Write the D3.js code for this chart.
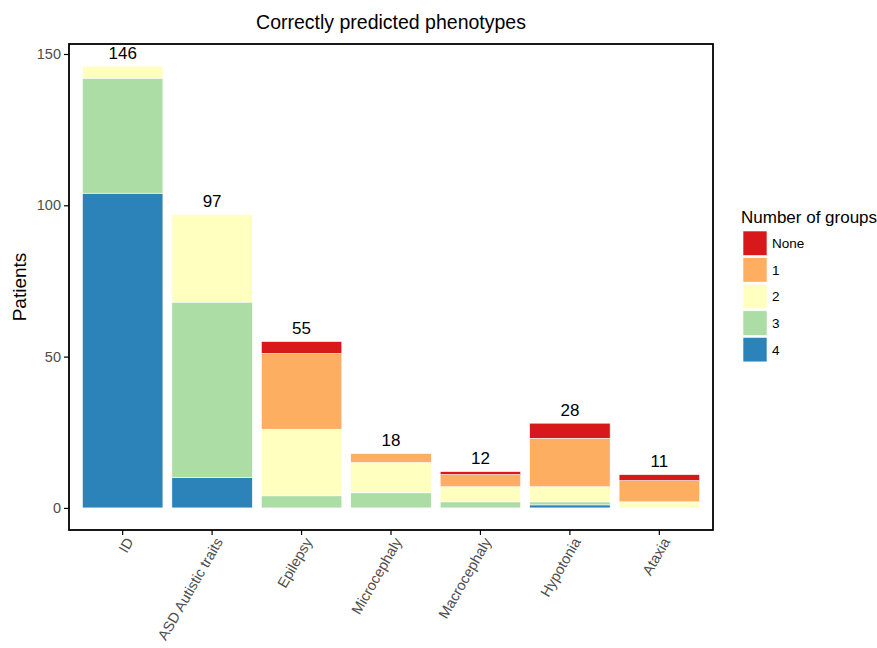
<!DOCTYPE html>
<html><head><meta charset="utf-8">
<script src="https://cdn.jsdelivr.net/npm/d3@7"></script>
<style>body{margin:0;background:#fff}text{font-family:Arial,"Liberation Sans",sans-serif}</style>
</head><body><svg id="c" width="877" height="648"></svg>
<script>
const categories = ["ID","ASD Autistic traits","Epilepsy","Microcephaly","Macrocephaly","Hypotonia","Ataxia"];
const groups = ["None","1","2","3","4"];
const vNone = [0,0,4,0,1,5,2];
const v1    = [0,0,25,3,4,16,7];
const v2    = [4,29,22,10,5,5,2];
const v3    = [38,58,4,5,2,1,0];
const v4    = [104,10,0,0,0,1,0];
const totals = [146,97,55,18,12,28,11];
const yTicks = [0,50,100,150];
const colors = ["#d7191c","#fdae61","#ffffbf","#abdda4","#2b83ba"];

const series = {"None":vNone,"1":v1,"2":v2,"3":v3,"4":v4};
const rows = categories.map((c,i)=>{const r={cat:c}; groups.forEach(g=>r[g]=series[g][i]); return r;});
const stack = d3.stack().keys(["4","3","2","1","None"])(rows);

const svg = d3.select("#c");
const L=69,R=713,T=44,B=530;
const x = d3.scaleBand().domain(categories).range([L,R]).paddingInner(0.1).paddingOuter(0.15);
const y = d3.scaleLinear().domain([-7.3,153.3]).range([B,T]);
const color = d3.scaleOrdinal().domain(groups).range(colors);
const FF = "Arial,'Liberation Sans',sans-serif";

svg.append("g").selectAll("g").data(stack).join("g").attr("fill",d=>color(d.key))
 .selectAll("rect").data(d=>d).join("rect")
 .attr("x",d=>x(d.data.cat)).attr("width",x.bandwidth())
 .attr("y",d=>y(d[1])).attr("height",d=>Math.max(0,y(d[0])-y(d[1])))
 .attr("stroke","#fff").attr("stroke-width",0.6);

svg.append("g").selectAll("text").data(categories).join("text")
 .attr("x",d=>x(d)+x.bandwidth()/2).attr("y",(d,i)=>y(totals[i])-7.5)
 .attr("text-anchor","middle").attr("font-size",17).attr("fill","#000").text((d,i)=>totals[i]);

svg.append("rect").attr("x",L).attr("y",T).attr("width",R-L).attr("height",B-T)
 .attr("fill","none").attr("stroke","#000").attr("stroke-width",1.8);

const ya = svg.append("g").attr("transform",`translate(${L},0)`)
 .call(d3.axisLeft(y).tickValues(yTicks).tickSize(5).tickPadding(3));
ya.select(".domain").remove();
ya.selectAll("line").attr("stroke","#000").attr("stroke-width",1.2);
ya.selectAll("text").attr("font-size",14.5).attr("fill","#4d4d4d").attr("font-family",FF);

const xa = svg.append("g").attr("transform",`translate(0,${B})`)
 .call(d3.axisBottom(x).tickSize(5).tickPadding(3));
xa.select(".domain").remove();
xa.selectAll("line").attr("stroke","#000").attr("stroke-width",1.2);
xa.selectAll("text").attr("font-size",14.5).attr("fill","#4d4d4d").attr("font-family",FF)
 .attr("text-anchor","end").attr("dy","0.35em")
 .attr("transform","translate(0,5) rotate(-60)");

svg.append("text").attr("x",(L+R)/2).attr("y",29).attr("text-anchor","middle").attr("font-size",19.5).text("Correctly predicted phenotypes");
svg.append("text").attr("transform",`translate(26,${(T+B)/2}) rotate(-90)`).attr("text-anchor","middle").attr("font-size",19).text("Patients");

const lg = svg.append("g");
lg.append("text").attr("x",741).attr("y",223).attr("font-size",17).text("Number of groups");
groups.forEach((g,i)=>{
  lg.append("rect").attr("x",743).attr("y",231+i*26.6).attr("width",24).attr("height",24.5).attr("fill",color(g)).attr("stroke","#fff").attr("stroke-width",0.6);
  lg.append("text").attr("x",772).attr("y",231+i*26.6+12.5).attr("dy","0.35em").attr("font-size",13.5).text(g);
});
</script></body></html>
